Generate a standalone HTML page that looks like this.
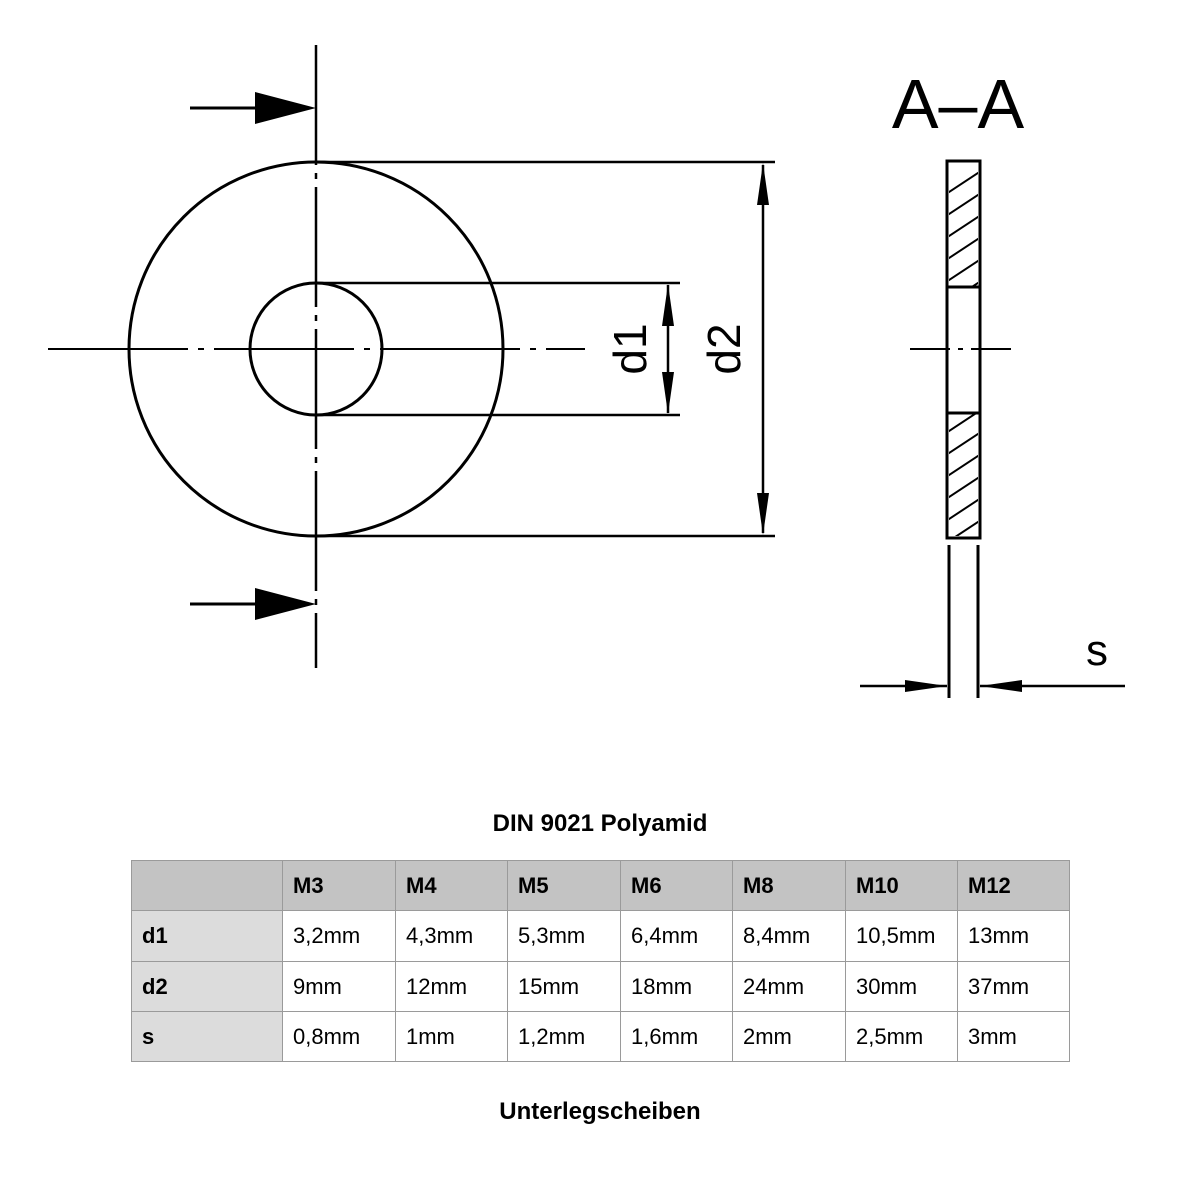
<!DOCTYPE html>
<html><head><style>
body{margin:0;background:#fff;width:1200px;height:1200px;position:relative;font-family:"Liberation Sans",Arial,sans-serif}
svg{position:absolute;left:0;top:0}
table{position:absolute;left:131px;top:860px;border-collapse:collapse;font-size:22px}
td{border:1px solid #9a9a9a;padding:0 0 0 10px;height:49px;box-sizing:border-box}
.h td{background:#c3c3c3;font-weight:bold}
td.f{background:#dcdcdc;font-weight:bold}
.t{position:absolute;width:1200px;text-align:center;font-weight:bold;font-size:24px}
</style></head><body>
<svg width="1200" height="760" viewBox="0 0 1200 760">
<defs>
<clipPath id="c1"><rect x="949" y="163" width="29" height="123"/></clipPath>
<clipPath id="c2"><rect x="949" y="414" width="29" height="122"/></clipPath>
</defs>
<g stroke="#000" fill="none" stroke-width="3">
<circle cx="316" cy="349" r="187"/>
<circle cx="316" cy="349" r="66"/>
<line x1="316" y1="45" x2="316" y2="668" stroke-dasharray="120,8,6,8" stroke-width="2.5"/>
<line x1="48" y1="349" x2="585" y2="349" stroke-dasharray="140,10,6,10" stroke-width="2"/>
<line x1="316" y1="162" x2="775" y2="162" stroke-width="2.5"/>
<line x1="316" y1="536" x2="775" y2="536" stroke-width="2.5"/>
<line x1="316" y1="283" x2="680" y2="283" stroke-width="2.5"/>
<line x1="316" y1="415" x2="680" y2="415" stroke-width="2.5"/>
<line x1="763" y1="165" x2="763" y2="533" stroke-width="2.5"/>
<path d="M763,163L757,205L769,205zM763,535L757,493L769,493z" fill="#000" stroke="none"/>
<line x1="668" y1="285" x2="668" y2="413" stroke-width="2.5"/>
<path d="M668,284L662,326L674,326zM668,414L662,372L674,372z" fill="#000" stroke="none"/>
<line x1="190" y1="108" x2="255" y2="108"/>
<path d="M255,92L316,108L255,124z" fill="#000" stroke="none"/>
<line x1="190" y1="604" x2="255" y2="604"/>
<path d="M255,588L316,604L255,620z" fill="#000" stroke="none"/>
<rect x="947" y="161" width="33" height="377"/>
<line x1="947" y1="287" x2="980" y2="287"/>
<line x1="947" y1="413" x2="980" y2="413"/>
<g stroke-width="2" clip-path="url(#c1)">
<path d="M940,198L990,165M940,220L990,187M940,242L990,209M940,264L990,231M940,286L990,253M940,308L990,275M940,330L990,297"/>
</g>
<g stroke-width="2" clip-path="url(#c2)">
<path d="M940,437L990,404M940,459L990,426M940,481L990,448M940,503L990,470M940,525L990,492M940,547L990,514M940,569L990,536"/>
</g>
<line x1="910" y1="349" x2="1018" y2="349" stroke-width="2" stroke-dasharray="40,8,5,8"/>
<line x1="949" y1="545" x2="949" y2="698"/>
<line x1="978" y1="545" x2="978" y2="698"/>
<line x1="860" y1="686" x2="947" y2="686" stroke-width="2.5"/>
<path d="M905,680L947,686L905,692z" fill="#000" stroke="none"/>
<line x1="980" y1="686" x2="1125" y2="686" stroke-width="2.5"/>
<path d="M1022,680L980,686L1022,692z" fill="#000" stroke="none"/>
</g>
<g font-family="Liberation Sans, sans-serif" fill="#000">
<text x="0" y="0" font-size="46" transform="translate(646,349) rotate(-90)" text-anchor="middle">d1</text>
<text x="0" y="0" font-size="46" transform="translate(740,349) rotate(-90)" text-anchor="middle">d2</text>
<text x="1097" y="665" font-size="44" text-anchor="middle">s</text>
<text x="958" y="128" font-size="70" text-anchor="middle" font-weight="normal">A–A</text>
</g>
</svg>
<div class="t" style="top:810px">DIN 9021 Polyamid</div>
<table>
<colgroup><col style="width:151px"><col style="width:113px"><col style="width:112px"><col style="width:113px"><col style="width:112px"><col style="width:113px"><col style="width:112px"><col style="width:112px"></colgroup>
<tr class="h" style="height:50px"><td></td><td>M3</td><td>M4</td><td>M5</td><td>M6</td><td>M8</td><td>M10</td><td>M12</td></tr>
<tr style="height:51px"><td class="f">d1</td><td>3,2mm</td><td>4,3mm</td><td>5,3mm</td><td>6,4mm</td><td>8,4mm</td><td>10,5mm</td><td>13mm</td></tr>
<tr style="height:50px"><td class="f">d2</td><td>9mm</td><td>12mm</td><td>15mm</td><td>18mm</td><td>24mm</td><td>30mm</td><td>37mm</td></tr>
<tr style="height:50px"><td class="f">s</td><td>0,8mm</td><td>1mm</td><td>1,2mm</td><td>1,6mm</td><td>2mm</td><td>2,5mm</td><td>3mm</td></tr>
</table>
<div class="t" style="top:1098px">Unterlegscheiben</div>
</body></html>
